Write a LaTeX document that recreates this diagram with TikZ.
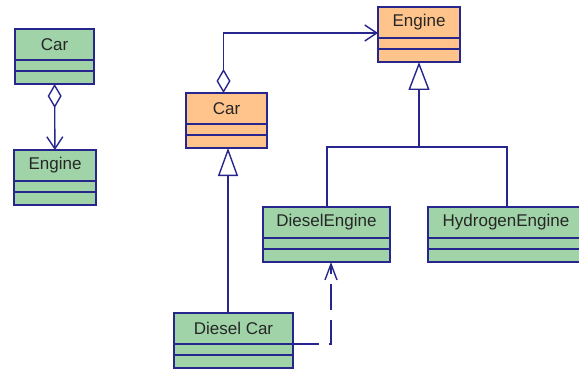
\documentclass[tikz,border=0pt]{standalone}
\usepackage{fontspec}
\setmainfont{Liberation Sans}
\usetikzlibrary{arrows.meta}

\definecolor{umlgreen}{RGB}{160,212,168}
\definecolor{umlorange}{RGB}{255,196,140}
\definecolor{umlnavy}{RGB}{38,38,140}

\tikzset{
  uml/.style={draw=umlnavy,line width=1.4pt},
  classbox/.style={uml,minimum height=55pt,inner sep=0pt,outer sep=0pt},
  classtitle/.style={font=\fontsize{17}{19}\selectfont,text=black!85,inner sep=0pt}
}

% one class: name, x, y, width, fill, title
\newcommand{\umlclass}[6]{%
  \node[classbox,fill=#5,minimum width=#4pt,anchor=north west] (#1) at (#2,#3) {};
  \node[classtitle] (#1-title) at ([yshift=-15.5pt]#1.north) {#6};
  \draw[uml] ([yshift=-31pt]#1.north west) -- ([yshift=-31pt]#1.north east);
  \draw[uml] ([yshift=-42pt]#1.north west) -- ([yshift=-42pt]#1.north east);
}

\begin{document}
\begin{tikzpicture}[x=1pt,y=1pt]
	\clip (0,0) rectangle (579,-369); % window of the reference
	% left: simple aggregation
	\umlclass{carA}{15}{-29}{79}{umlgreen}{Car}
	\umlclass{engineA}{14}{-150}{82}{umlgreen}{Engine}
	\draw[uml,{Diamond[open,length=24pt,width=14pt]}-{Straight Barb[length=12pt,width=16pt]}] (carA) -- (engineA);
	% right: the classes
	\umlclass{engineB}{378}{-7}{82}{umlorange}{Engine}
	\umlclass{carB}{186}{-93}{81}{umlorange}{Car}
	\umlclass{dieselengine}{263}{-207}{127}{umlgreen}{DieselEngine}
	\umlclass{hydrogenengine}{428}{-207}{156}{umlgreen}{HydrogenEngine}
	\umlclass{dieselcar}{174}{-313}{119}{umlgreen}{Diesel Car}
	% aggregation car -> engine
	\draw[uml,{Diamond[open,length=24pt,width=14pt]}-{Straight Barb[length=12pt,width=16pt]}]
		([xshift=-3pt]carB.north) |- ([yshift=-26pt]engineB.north west);
	% engine hierarchy
	\coordinate (fork) at (engineB.south |- 0,-147);
	\draw[uml] ([xshift=0.5pt]dieselengine.north) |- (fork) -| ([xshift=1pt]hydrogenengine.north);
	\draw[uml,-{Triangle[open,length=28pt,width=21pt]}] (fork) -- (engineB.south);
	% car hierarchy
	\draw[uml,-{Triangle[open,length=28pt,width=20pt]}] ([xshift=1.5pt]dieselcar.north -| carB.south) -- ([xshift=1.5pt]carB.south);
	% dependency
	\draw[uml,dash pattern=on 26pt off 10pt,-{Straight Barb[length=16pt,width=12pt]}]
		([yshift=-31pt]dieselcar.north east) -| ([xshift=4.5pt]dieselengine.south);
\end{tikzpicture}
\end{document}
